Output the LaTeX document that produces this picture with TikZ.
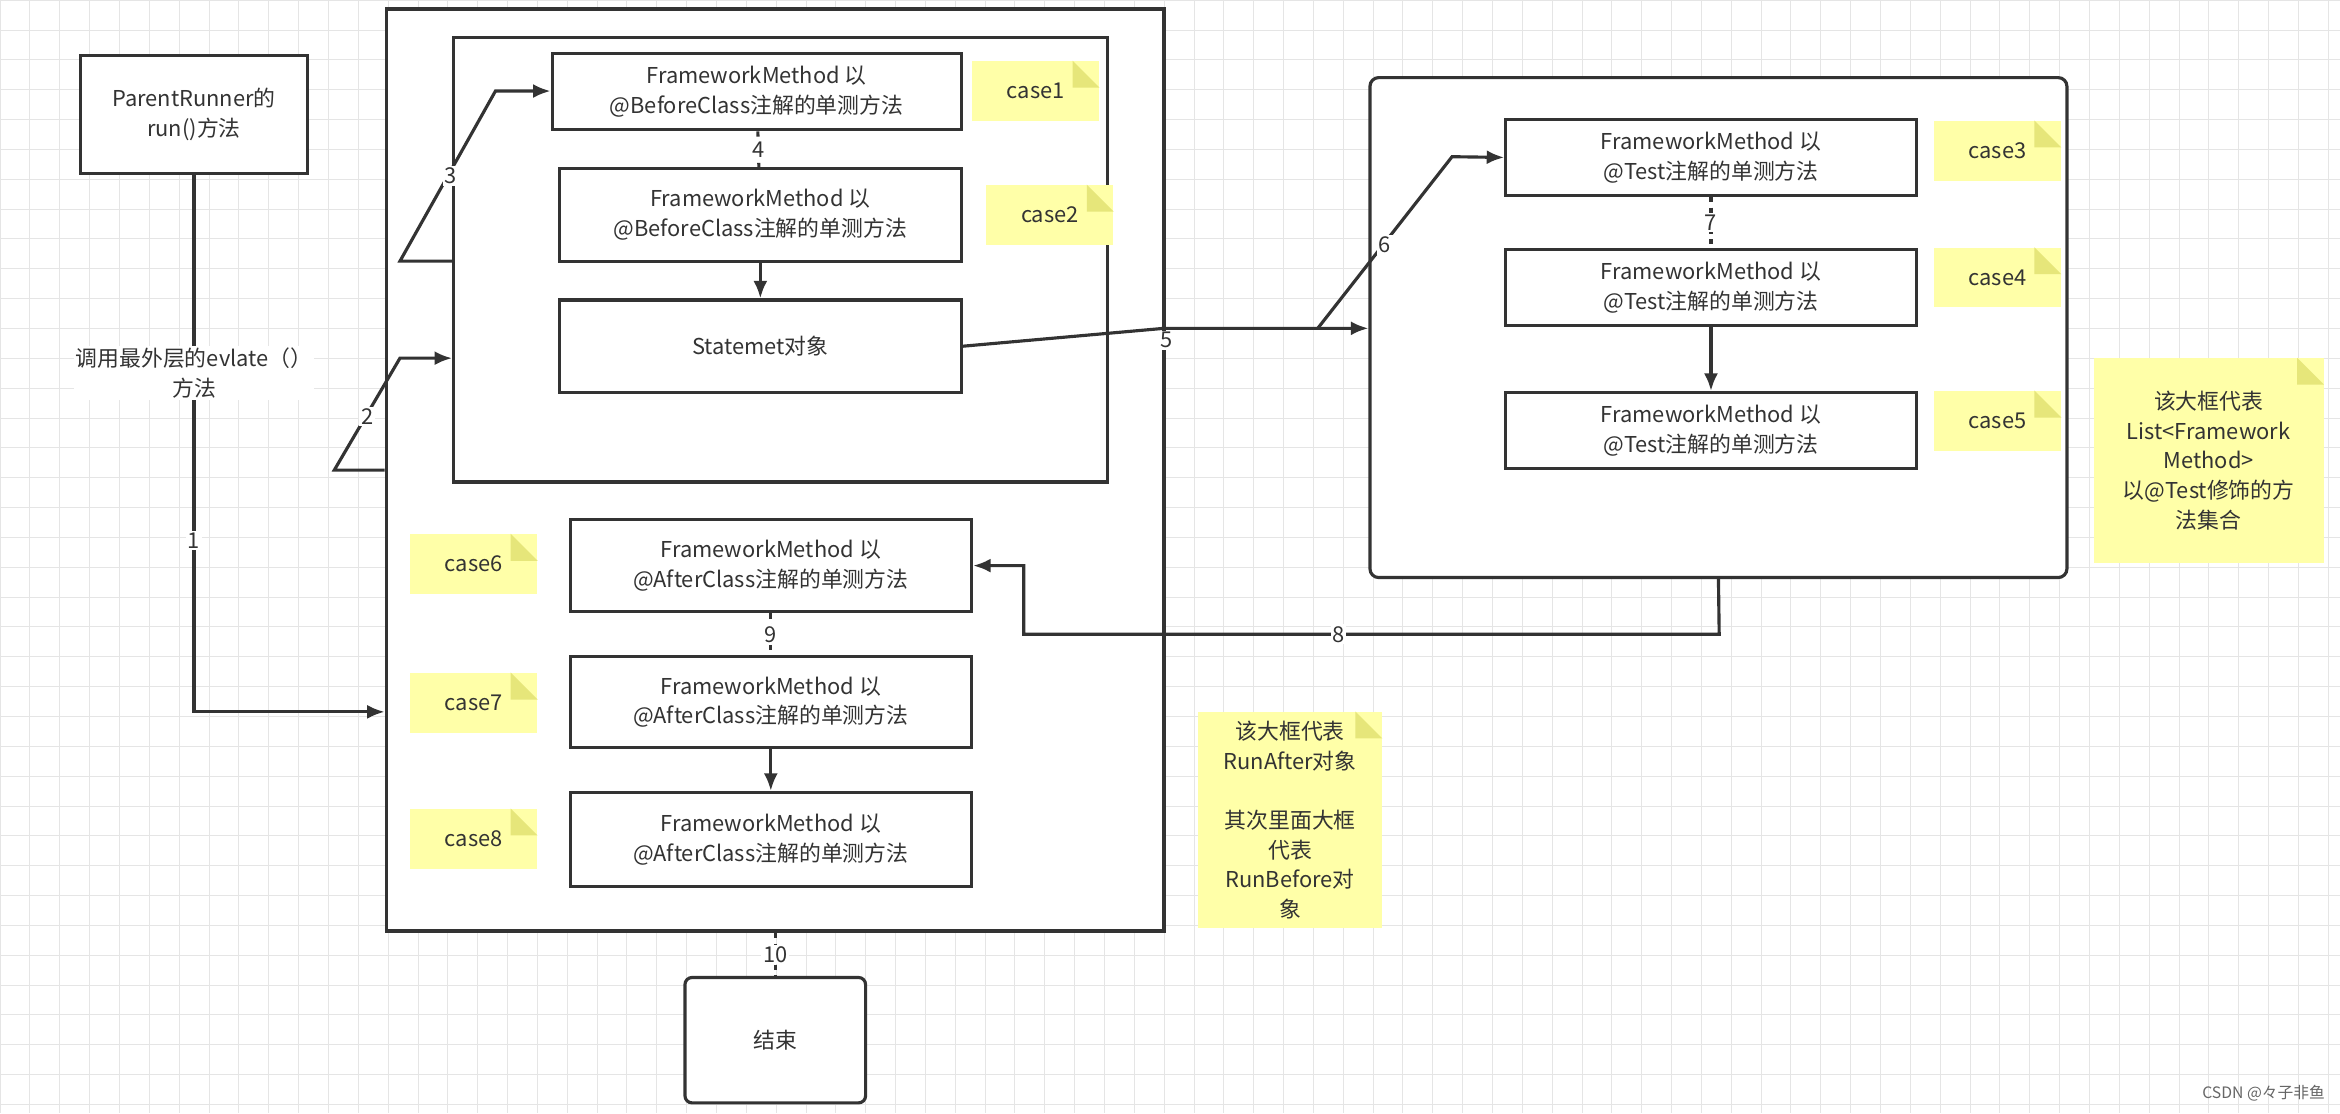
\documentclass[tikz,border=0pt]{standalone}
\usepackage{fontspec}
\setmainfont{Noto Sans CJK SC}
\usetikzlibrary{arrows.meta}
\definecolor{ink}{HTML}{333333}
\definecolor{notey}{HTML}{FFFFA8}
\definecolor{notef}{HTML}{E6E67A}
\tikzset{
  box/.style={draw=ink, line width=1.8pt, fill=white, align=center, text=ink, inner sep=0pt},
  note/.style={fill=notey, align=center, text=ink, inner sep=0pt, minimum width=2.55cm, minimum height=1.2cm},
  link/.style={draw=ink, line width=1.8pt},
  lab/.style={fill=white, inner sep=1pt, text=ink}
}
\begin{document}
\begin{tikzpicture}[>={Latex[length=10pt,width=8pt]}, x=0.03cm, y=-0.03cm, font=\fontsize{12.5}{17}\selectfont]
\useasboundingbox (0,0) rectangle (1568,746);
\fill[white] (0,0) rectangle (1568,746);
\foreach \g in {0,20,...,1560} \draw[black!10] (\g,0)--(\g,746);
\foreach \g in {0,20,...,740} \draw[black!10] (0,\g)--(1568,\g);

% left part
\node[box, minimum width=4.56cm, minimum height=2.37cm] (pr) at (130,76.5) {ParentRunner的\\run()方法};
\node[box, line width=2.1pt, minimum width=15.63cm, minimum height=18.54cm] (outer) at (519.5,315) {};
\node[box, minimum width=13.14cm, minimum height=8.94cm] (inner) at (523,174) {};
\node[box, minimum width=8.22cm, minimum height=1.53cm] (b1) at (507,61.5) {FrameworkMethod 以\\@BeforeClass注解的单测方法};
\node[box, minimum width=8.07cm, minimum height=1.86cm] (b2) at (509.5,144) {FrameworkMethod 以\\@BeforeClass注解的单测方法};
\node[box, minimum width=8.07cm, minimum height=1.86cm] (st) at (509.5,232) {Statemet对象};
\node[box, minimum width=8.07cm, minimum height=1.86cm] (a1) at (516.5,379) {FrameworkMethod 以\\@AfterClass注解的单测方法};
\node[box, minimum width=8.07cm, minimum height=1.83cm] (a2) at (516.5,470.5) {FrameworkMethod 以\\@AfterClass注解的单测方法};
\node[box, minimum width=8.07cm, minimum height=1.89cm] (a3) at (516.5,562.5) {FrameworkMethod 以\\@AfterClass注解的单测方法};
\node[box, rounded corners=4pt, minimum width=3.63cm, minimum height=2.52cm] (fin) at (519.5,697) {结束};

% right part
\node[box, rounded corners=5pt, minimum width=14.01cm, minimum height=10.05cm] (tests) at (1151.5,219.5) {};
\node[box, minimum width=8.25cm, minimum height=1.53cm] (t1) at (1146.5,105.5) {FrameworkMethod 以\\@Test注解的单测方法};
\node[box, minimum width=8.25cm, minimum height=1.53cm] (t2) at (1146.5,192.5) {FrameworkMethod 以\\@Test注解的单测方法};
\node[box, minimum width=8.25cm, minimum height=1.53cm] (t3) at (1146.5,288.5) {FrameworkMethod 以\\@Test注解的单测方法};

% notes
\node[note] (c1) at (694,61) {case1};
\node[note] (c2) at (703.5,144) {case2};
\node[note] (c3) at (1338.5,101) {case3};
\node[note] (c4) at (1338.5,186) {case4};
\node[note] (c5) at (1338.5,282) {case5};
\node[note] (c6) at (317.5,378) {case6};
\node[note] (c7) at (317.5,471) {case7};
\node[note] (c8) at (317.5,562) {case8};
\node[note, minimum width=4.62cm, minimum height=4.11cm] (nlist) at (1480,308.5) {该大框代表\\List<Framework\\Method>\\以@Test修饰的方\\法集合};
\node[note, minimum width=3.69cm, minimum height=4.35cm] (nrun) at (864.5,549.5) {该大框代表\\RunAfter对象\\[17pt]其次里面大框\\代表\\RunBefore对\\象};
\foreach \n in {c1,c2,c3,c4,c5,c6,c7,c8,nlist,nrun}
  \fill[notef] (\n.north east)++(-18,0) -- ++(18,18) -- ++(-18,0) -- cycle;

% connectors
\coordinate (k1) at (130,477);
\draw[link,->] (pr.south) -- (k1) -- (outer.west |- k1);
\node[lab] (l1) at (130,362) {1};
\node[lab, align=center] (lcall) at (130,250) {调用最外层的evlate（）\\方法};
\coordinate (k2a) at (224,315);
\coordinate (k2b) at (268,240);
\draw[link,->] (outer.west |- k2a) -- (k2a) -- (k2b) -- (inner.west |- k2b);
\node[lab] (l2) at (246,279) {2};
\coordinate (k3a) at (268,175);
\coordinate (k3b) at (332,61);
\draw[link,->] (inner.west |- k3a) -- (k3a) -- (k3b) -- (b1.west |- k3b);
\node[lab] (l3) at (302,118) {3};
\draw[link, dashed] (b1) -- node[lab] {4} (b2);
\draw[link,->] (b2) -- (st);
\coordinate (k5a) at (780,220);
\coordinate (k5b) at (883,220);
\draw[link,->] (st.east) -- (k5a) -- (tests.west |- k5a);
\node[lab] (l5) at (782,228) {5};
\draw[link,->] (k5b) -- (973,105) -- (t1.west);
\node[lab] (l6) at (928,164) {6};
\draw[link, dashed] (t1) -- node[lab] {7} (t2);
\draw[link,->] (t2) -- (t3);
\coordinate (k8a) at (1152,425);
\coordinate (k8b) at (686,425);
\draw[link,->] (tests.south) -- (k8a) -- (k8b) -- (686,379) -- (a1.east);
\node[lab] (l8) at (897,425) {8};
\draw[link, dashed] (a1) -- node[lab] {9} (a2);
\draw[link,->] (a2) -- (a3);
\draw[link, dashed] (outer.south) -- node[lab] {10} (fin.north);

\node[text=black!60, font=\fontsize{9}{11}\selectfont, anchor=south east] (mark) at (1562,742) {CSDN @々子非鱼};
\end{tikzpicture}
\end{document}
